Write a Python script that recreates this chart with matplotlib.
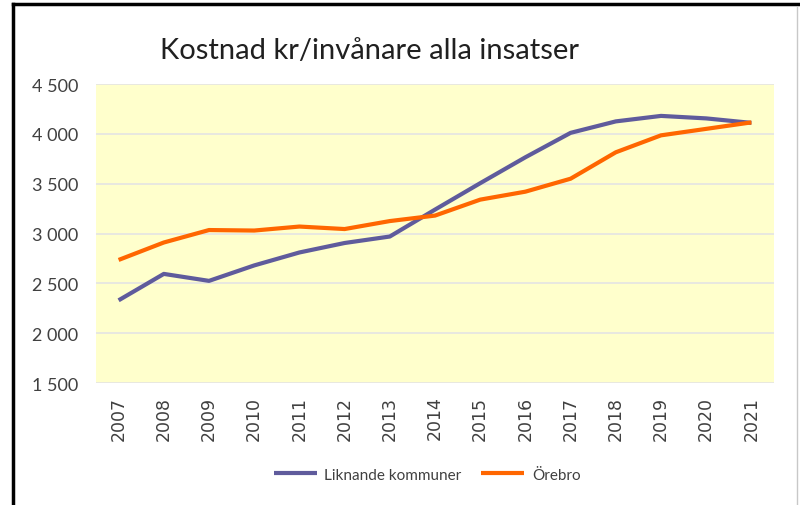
import numpy as np
import matplotlib
matplotlib.use('Agg')
import matplotlib.pyplot as plt
from matplotlib.lines import Line2D

YEARS = [str(y) for y in range(2007, 2022)]
LIKNANDE = [2330, 2595, 2525, 2680, 2810, 2905, 2970, 3240, 3505, 3765, 4010, 4125, 4180, 4155, 4110]
OREBRO = [2735, 2910, 3035, 3030, 3070, 3045, 3125, 3180, 3340, 3420, 3550, 3815, 3985, 4050, 4115]
Y_TICKS = [1500, 2000, 2500, 3000, 3500, 4000, 4500]

PURPLE = '#5F5B9C'
ORANGE = '#FF6600'
NARROW = ['Lato', 'DejaVu Sans']

fig = plt.figure(figsize=(8, 5.06), dpi=100)
ax = fig.add_axes([0.12, 0.241, 0.8475, 0.591])
ax.set_facecolor('#FFFFCC')

x = np.arange(len(YEARS))
ax.plot(x, LIKNANDE, color=PURPLE, linewidth=3, label='Liknande kommuner', solid_capstyle='butt')
ax.plot(x, OREBRO, color=ORANGE, linewidth=3, label='Örebro', solid_capstyle='butt')

ax.set_xlim(-0.5, len(YEARS) - 0.5)
ax.set_ylim(1500, 4500)
ax.set_yticks(Y_TICKS)
ax.set_yticklabels([f'{v:,}'.replace(',', ' ') for v in Y_TICKS], family=NARROW, fontsize=13, color='#404040')
ax.set_xticks(x)
ax.set_xticklabels(YEARS, rotation=90, fontsize=12.5, color='#404040')
ax.tick_params(length=0)
ax.tick_params(axis='y', pad=13)
ax.tick_params(axis='x', pad=9)
ax.grid(axis='y', color='#E4E4E4', linewidth=1.2)
ax.set_axisbelow(True)
for s in ax.spines.values():
    s.set_visible(False)

fig.text(0.4625, 0.9, 'Kostnad kr/invånare alla insatser', family=NARROW, fontsize=21,
         color='#202020', ha='center', va='center')

leg = fig.legend(loc='center', bbox_to_anchor=(0.534, 0.06), ncol=2, frameon=False,
                 prop={'family': NARROW, 'size': 11}, handlelength=2.8, handletextpad=0.5,
                 columnspacing=1.3)
for t in leg.get_texts():
    t.set_color('#404040')

# ram runt bilden
fig.add_artist(Line2D([0.016, 0.016], [0, 0.99], color='black', linewidth=2.5, transform=fig.transFigure))
fig.add_artist(Line2D([0.016, 1], [0.99, 0.99], color='black', linewidth=2.5, transform=fig.transFigure))
fig.add_artist(Line2D([0.996, 0.996], [0, 0.985], color='#C8C8C8', linewidth=1, transform=fig.transFigure))

fig.savefig('out.png', dpi=100)
